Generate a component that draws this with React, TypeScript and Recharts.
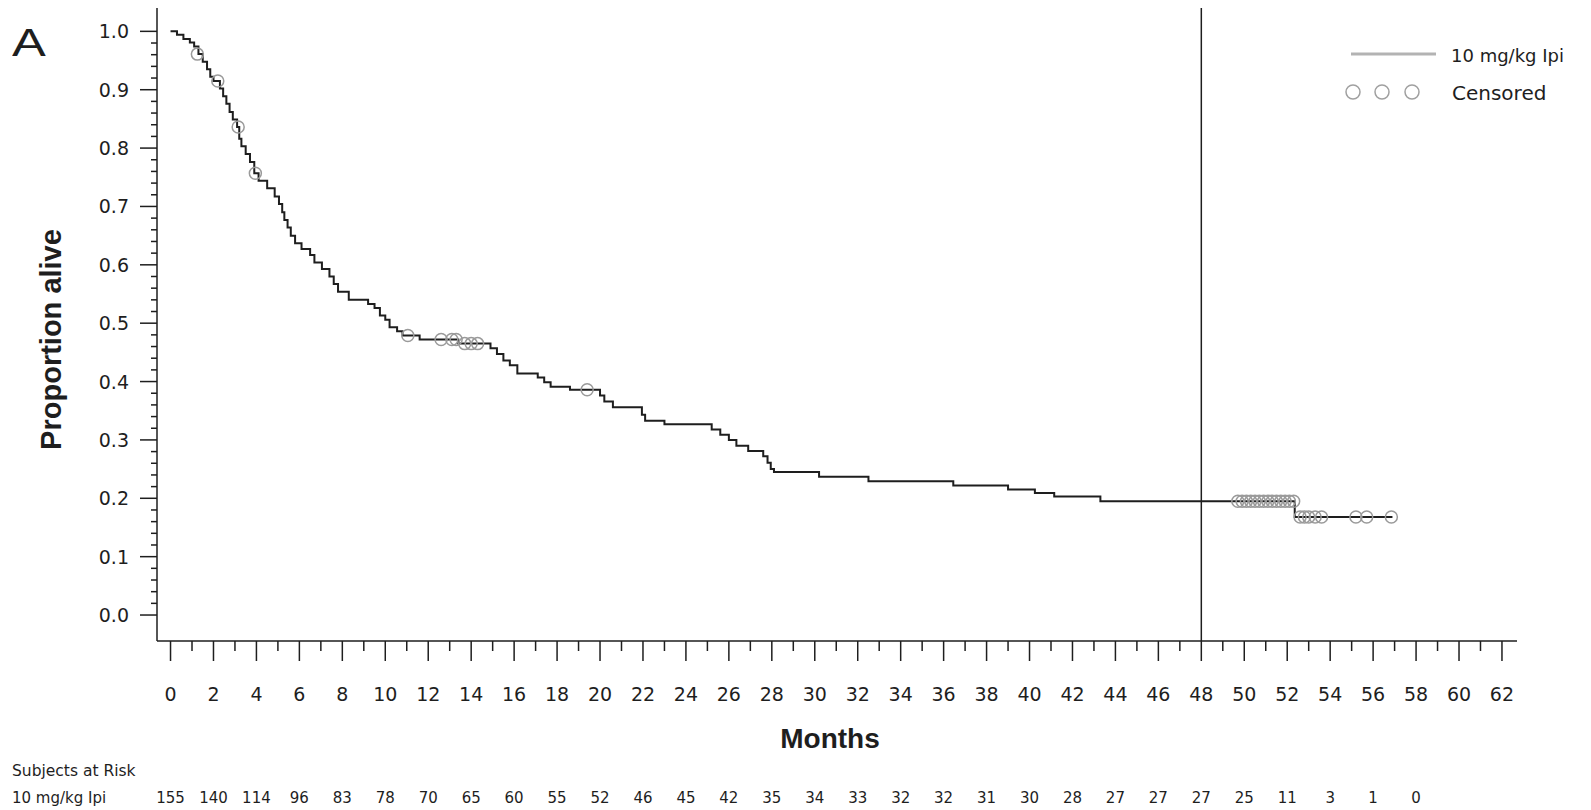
import { ComposedChart, Line, Scatter, XAxis, YAxis, ReferenceLine, Legend } from 'recharts'

// Kaplan-Meier steps: month of each drop and the survival after it
const stepMonths = [
  0, 0.3, 0.6, 0.9, 1.1, 1.3, 1.5, 1.7, 1.85, 2.0, 2.3, 2.45, 2.6, 2.75, 2.9, 3.1, 3.2, 3.3, 3.5, 3.7,
  3.9, 4.1, 4.5, 4.85, 5.05, 5.2, 5.3, 5.45, 5.6, 5.8, 6.1, 6.5, 6.7, 7.05, 7.4, 7.6, 7.8, 8.3, 9.2, 9.5,
  9.75, 10.0, 10.2, 10.55, 10.8, 11.6, 13.4, 14.9, 15.2, 15.5, 15.8, 16.15, 17.1, 17.4, 17.7, 18.6, 20.0,
  20.2, 20.6, 21.95, 22.1, 23.0, 25.2, 25.6, 26.0, 26.35, 26.9, 27.6, 27.8, 27.95, 28.1, 30.2, 32.5, 36.45,
  39.0, 40.25, 41.15, 43.3, 52.35, 56.9,
]
const stepSurvival = [
  1.0, 0.994, 0.987, 0.981, 0.974, 0.961, 0.948, 0.935, 0.922, 0.915, 0.902, 0.889, 0.876, 0.862, 0.849,
  0.836, 0.816, 0.803, 0.79, 0.776, 0.757, 0.744, 0.731, 0.717, 0.704, 0.69, 0.677, 0.664, 0.65, 0.637,
  0.627, 0.617, 0.604, 0.593, 0.58, 0.567, 0.554, 0.54, 0.533, 0.526, 0.513, 0.506, 0.493, 0.486, 0.479,
  0.472, 0.465, 0.457, 0.447, 0.436, 0.428, 0.414, 0.407, 0.399, 0.391, 0.386, 0.376, 0.366, 0.356, 0.343,
  0.333, 0.327, 0.318, 0.309, 0.3, 0.29, 0.281, 0.272, 0.261, 0.25, 0.245, 0.237, 0.229, 0.222, 0.215,
  0.209, 0.203, 0.195, 0.168, 0.168,
]

// censored subjects
const censorMonths = [
  1.25, 2.2, 3.15, 3.95, 11.05, 12.6, 13.1, 13.3, 13.7, 14.0, 14.3, 19.4, 49.7, 49.9, 50.1, 50.3, 50.5,
  50.7, 50.9, 51.1, 51.3, 51.5, 51.7, 51.9, 52.1, 52.3, 52.6, 52.8, 53.0, 53.3, 53.6, 55.2, 55.7, 56.85,
]
const censorSurvival = [
  0.961, 0.915, 0.836, 0.757, 0.479, 0.472, 0.472, 0.472, 0.465, 0.465, 0.465, 0.386, 0.195, 0.195, 0.195,
  0.195, 0.195, 0.195, 0.195, 0.195, 0.195, 0.195, 0.195, 0.195, 0.195, 0.195, 0.168, 0.168, 0.168, 0.168,
  0.168, 0.168, 0.168, 0.168,
]

const riskMonths = [0, 2, 4, 6, 8, 10, 12, 14, 16, 18, 20, 22, 24, 26, 28, 30, 32, 34, 36, 38, 40, 42, 44, 46, 48, 50, 52, 54, 56, 58]
const riskCounts = [155, 140, 114, 96, 83, 78, 70, 65, 60, 55, 52, 46, 45, 42, 35, 34, 33, 32, 32, 31, 30, 28, 27, 27, 27, 25, 11, 3, 1, 0]

const monthTicks = Array.from({ length: 63 }, (_, i) => i)
const propTicks = Array.from({ length: 51 }, (_, i) => +(i * 0.02).toFixed(2))

const kmData = stepMonths.map((m, i) => ({ m, s: stepSurvival[i] }))
const censorData = censorMonths.map((m, i) => ({ m, s: censorSurvival[i] }))

const INK = '#1e1e1e'
const TICK_FONT = "'DejaVu Sans', sans-serif"
const titleFont = "'Liberation Sans', Arial, sans-serif"

const MonthTick = (props: any) => {
  const { x, y, payload } = props
  const m = payload.value
  const major = m % 2 === 0
  const idx = riskMonths.indexOf(m)
  return (
    <g>
      <line x1={x} x2={x} y1={y} y2={y + (major ? 20 : 10)} stroke={INK} strokeWidth={1.5} />
      {major && (
        <text x={x} y={y + 53} textAnchor='middle' dominantBaseline='central' fontFamily={TICK_FONT} fontSize={19} fill={INK}>
          {m}
        </text>
      )}
      {idx >= 0 && (
        <text x={x} y={y + 157} textAnchor='middle' dominantBaseline='central' fontFamily={TICK_FONT} fontSize={15} fill={INK}>
          {riskCounts[idx]}
        </text>
      )}
    </g>
  )
}

const PropTick = (props: any) => {
  const { x, y, payload } = props
  const v = payload.value
  const major = Math.abs(v * 10 - Math.round(v * 10)) < 1e-6
  return (
    <g>
      <line x1={x - (major ? 17 : 6)} x2={x} y1={y} y2={y} stroke={INK} strokeWidth={1.5} />
      {major && (
        <text x={x - 28} y={y} textAnchor='end' dominantBaseline='central' fontFamily={TICK_FONT} fontSize={19} fill={INK}>
          {v.toFixed(1)}
        </text>
      )}
    </g>
  )
}

const CensorMark = (props: any) => {
  const { cx, cy } = props
  if (cx == null || cy == null) return null
  return <circle cx={cx} cy={cy} r={6} fill='none' stroke='#9a9a9a' strokeWidth={1.5} />
}

const renderLegend = () => (
  <svg width={266} height={80}>
    <line x1={28} x2={113} y1={14} y2={14} stroke='#b3b3b3' strokeWidth={3} />
    <text x={128} y={15} dominantBaseline='central' fontFamily={TICK_FONT} fontSize={18} fill={INK}>
      10 mg/kg Ipi
    </text>
    {[30, 59, 89].map((cx) => (
      <circle key={cx} cx={cx} cy={52} r={7} fill='none' stroke='#a0a0a0' strokeWidth={1.5} />
    ))}
    <text x={129} y={53} dominantBaseline='central' fontFamily={TICK_FONT} fontSize={20} fill={INK}>
      Censored
    </text>
  </svg>
)

const App = () => {
  return (
    <div style={{ position: 'absolute', left: 0, top: 0, width: 1591, height: 810, overflow: 'hidden', background: '#fff' }}>
      <ComposedChart width={1591} height={810} margin={{ top: 8, right: 74, left: 0, bottom: 59 }}>
        <XAxis
          type='number'
          dataKey='m'
          domain={[-0.63, 62.7]}
          allowDataOverflow
          ticks={monthTicks}
          interval={0}
          height={110}
          tickSize={0}
          tickMargin={0}
          tickLine={false}
          axisLine={{ stroke: INK, strokeWidth: 1.5 }}
          tick={<MonthTick />}
          label={{
            content: (p: any) => (
              <text
                x={p.viewBox.x + 673}
                y={p.viewBox.y + 97}
                textAnchor='middle'
                dominantBaseline='central'
                fontFamily={titleFont}
                fontWeight='bold'
                fontSize={28}
                fill={INK}
              >
                Months
              </text>
            ),
          }}
        />
        <YAxis
          type='number'
          dataKey='s'
          domain={[-0.0445, 1.04]}
          allowDataOverflow
          ticks={propTicks}
          interval={0}
          width={157}
          tickSize={0}
          tickMargin={0}
          tickLine={false}
          axisLine={{ stroke: INK, strokeWidth: 1.5 }}
          tick={<PropTick />}
          label={{
            content: (p: any) => {
              const cx = p.viewBox.x + 51
              const cy = p.viewBox.y + p.viewBox.height / 2 + 15
              return (
                <text
                  x={cx}
                  y={cy}
                  transform={`rotate(-90 ${cx} ${cy})`}
                  textAnchor='middle'
                  dominantBaseline='central'
                  fontFamily={titleFont}
                  fontWeight='bold'
                  fontSize={29}
                  fill={INK}
                >
                  Proportion alive
                </text>
              )
            },
          }}
        />
        <ReferenceLine x={48} stroke={INK} strokeWidth={1.5} />
        <Line
          data={kmData}
          dataKey='s'
          type='stepAfter'
          stroke={INK}
          strokeWidth={2}
          dot={false}
          isAnimationActive={false}
        />
        <Scatter data={censorData} dataKey='s' shape={<CensorMark />} isAnimationActive={false} />
        <Legend
          layout='horizontal'
          verticalAlign='middle'
          align='center'
          content={renderLegend}
          wrapperStyle={{ position: 'absolute', left: 1323, top: 40, width: 266, height: 80 }}
        />
      </ComposedChart>
      <div
        style={{
          position: 'absolute',
          left: 12,
          top: 23,
          fontFamily: titleFont,
          fontSize: 39,
          lineHeight: 1,
          color: INK,
          transform: 'scaleX(1.3)',
          transformOrigin: 'left top',
        }}
      >
        A
      </div>
      <div style={{ position: 'absolute', left: 12, top: 761, fontFamily: TICK_FONT, fontSize: 15.5, lineHeight: '20px', color: INK }}>
        Subjects at Risk
      </div>
      <div style={{ position: 'absolute', left: 12, top: 788, fontFamily: TICK_FONT, fontSize: 15, lineHeight: '20px', color: INK }}>
        10 mg/kg Ipi
      </div>
    </div>
  )
}

export default App
